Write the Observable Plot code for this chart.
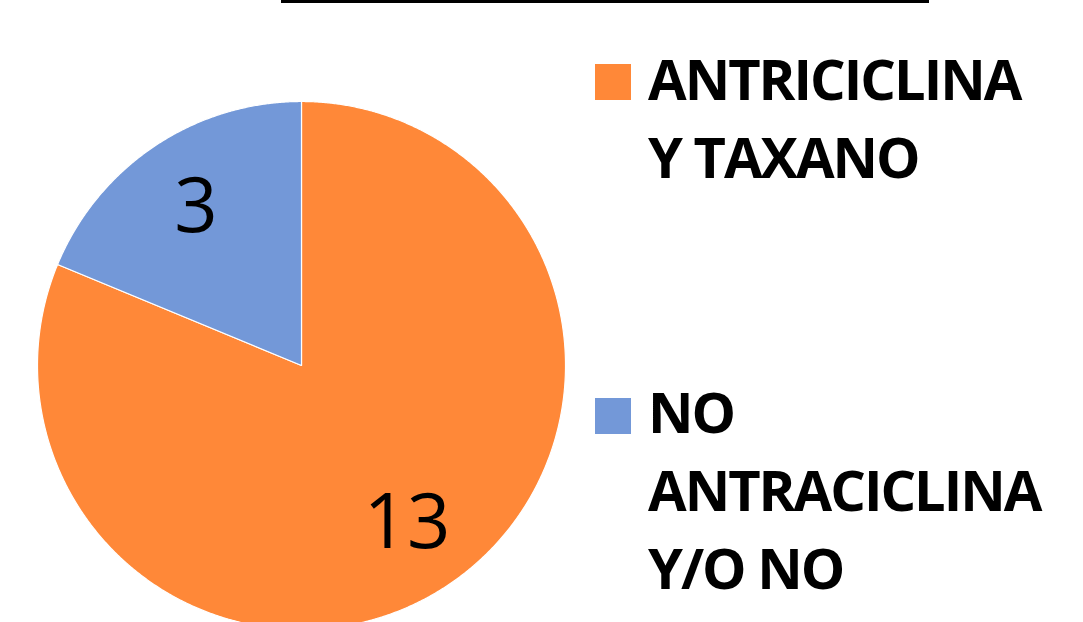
<!DOCTYPE html>
<html><head><meta charset="utf-8">
<script src="https://cdn.jsdelivr.net/npm/d3@7"></script>
<script src="https://cdn.jsdelivr.net/npm/@observablehq/plot@0.6"></script>
<style>
body{margin:0;background:#fff;}
#wrap{position:relative;width:1083px;height:622px;overflow:hidden;font-family:"Open Sans",sans-serif;background:#fff;}
#wrap svg{position:absolute;left:0;top:0;}
.topline{position:absolute;left:281px;top:0;width:648px;height:3px;background:#000;}
.sw{position:absolute;width:36px;height:36px;}
.lt{position:absolute;font-weight:700;font-size:56px;line-height:78px;letter-spacing:-2px;color:#000;white-space:nowrap;}
</style></head><body><div id="wrap"><div class="topline"></div></div>
<script>
const categories = ["ANTRICICLINA Y TAXANO", "NO ANTRACICLINA Y/O NO"];
const values = [13, 3];
const colors = ["#FF8838", "#7398D8"];
const legendLines = [["ANTRICICLINA", "Y TAXANO"], ["NO", "ANTRACICLINA", "Y/O NO"]];

const W = 1083, H = 622, CX = 301, CY = 365, R = 264;
const pie = d3.pie().sort(null).value(d => d.value);
const arcs = pie(categories.map((c, i) => ({cat: c, value: values[i]})));

const pts = [];
arcs.forEach(a => {
  pts.push({cat: a.data.cat, x: 0, y: 0});
  const n = Math.max(2, Math.ceil((a.endAngle - a.startAngle) / 0.005));
  for (let k = 0; k <= n; k++) {
    const t = a.startAngle + (a.endAngle - a.startAngle) * k / n;
    pts.push({cat: a.data.cat, x: Math.sin(t), y: Math.cos(t)});
  }
});
const labels = arcs.map(a => {
  const m = (a.startAngle + a.endAngle) / 2, r = 0.72;
  return {x: r * Math.sin(m), y: r * Math.cos(m), text: String(a.data.value)};
});

const chart = Plot.plot({
  width: W, height: H, margin: 0,
  x: {domain: [-CX / R, (W - CX) / R], range: [0, W], axis: null},
  y: {domain: [-(H - CY) / R, CY / R], range: [H, 0], axis: null},
  color: {domain: categories, range: colors},
  style: {background: "transparent", fontFamily: "Open Sans"},
  marks: [
    Plot.line(pts, {x: "x", y: "y", z: "cat", fill: "cat", stroke: "white", strokeWidth: 1.2, curve: "linear-closed"}),
    Plot.text(labels, {x: "x", y: "y", text: "text", fontSize: 76, fill: "black"})
  ]
});
const wrap = document.getElementById("wrap");
wrap.insertBefore(chart, wrap.firstChild);

const legendPos = [{sq: 64, txt: 39}, {sq: 398, txt: 372}];
categories.forEach((c, i) => {
  const sq = document.createElement("div");
  sq.className = "sw";
  sq.style.left = "595px"; sq.style.top = legendPos[i].sq + "px";
  sq.style.background = colors[i];
  wrap.appendChild(sq);
  const t = document.createElement("div");
  t.className = "lt";
  t.style.left = "648px"; t.style.top = legendPos[i].txt + "px";
  t.innerHTML = legendLines[i].join("<br>");
  wrap.appendChild(t);
});
</script></body></html>
